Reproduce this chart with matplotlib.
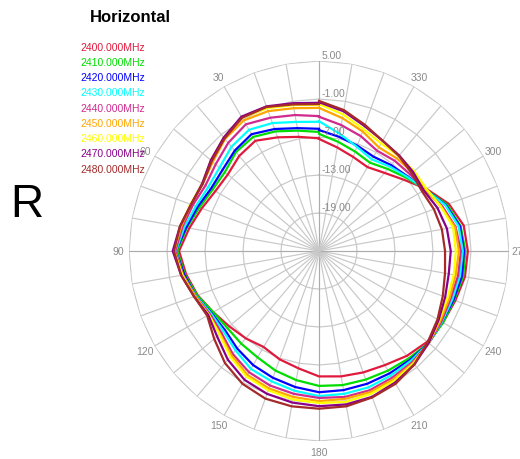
import matplotlib
matplotlib.use("Agg")
import matplotlib.pyplot as plt
import numpy as np

plt.rcParams["font.family"] = ["Liberation Sans", "DejaVu Sans"]

# angles in degrees, gain in dB
angles = list(range(0, 361, 10))
freqs = ["2400.000MHz", "2410.000MHz", "2420.000MHz", "2430.000MHz", "2440.000MHz",
         "2450.000MHz", "2460.000MHz", "2470.000MHz", "2480.000MHz"]
colors = ["#e01a3c", "#00dd00", "#0000ff", "#00ffff", "#d02a8e",
          "#ffa500", "#ffff00", "#880088", "#a52a2a"]

gain_2400 = [-7.2, -6.7, -5.9, -4.9, -5.4, -6.2, -6.1, -5.3, -4.2, -2.9, -3.7, -4.6, -5.7, -6.5, -7.0, -7.5, -6.8, -6.2, -5.2,
             -4.9, -4.6, -4.2, -3.4, -2.7, -2.4, -2.1, -1.6, -1.5, -1.8, -3.2, -5.4, -7.5, -8.9, -9.7, -9.2, -8.4, -7.3]
gain_2410 = [-6.2, -5.7, -4.9, -4.2, -4.6, -5.6, -5.6, -4.9, -3.8, -2.6, -3.5, -4.5, -5.7, -6.1, -5.9, -5.6, -4.9, -4.3, -3.7,
             -3.5, -3.4, -3.2, -2.9, -2.4, -2.4, -2.3, -1.9, -1.9, -2.3, -3.5, -5.6, -7.0, -8.1, -8.9, -8.3, -7.5, -6.5]
gain_2420 = [-5.7, -5.3, -4.5, -3.7, -4.3, -5.1, -5.3, -4.6, -3.7, -2.4, -3.4, -4.3, -5.4, -5.6, -4.9, -4.2, -3.7, -3.2, -2.7,
             -2.7, -2.7, -2.7, -2.6, -2.4, -2.6, -2.4, -2.1, -2.1, -2.4, -3.7, -5.6, -6.7, -7.3, -7.8, -7.3, -6.7, -5.9]
gain_2430 = [-4.6, -4.3, -3.5, -2.9, -3.5, -4.5, -4.8, -4.3, -3.4, -2.4, -3.2, -4.3, -5.3, -5.3, -4.5, -3.5, -3.1, -2.6, -2.1,
             -2.1, -2.1, -2.3, -2.4, -2.4, -2.6, -2.6, -2.4, -2.3, -2.6, -3.8, -5.6, -6.8, -7.6, -8.3, -7.5, -6.2, -4.5]
gain_2440 = [-3.7, -3.2, -2.6, -1.9, -2.7, -3.7, -4.3, -3.8, -3.1, -2.3, -3.2, -4.2, -5.1, -4.9, -3.8, -2.9, -2.4, -2.1, -1.8,
             -1.6, -1.6, -1.9, -2.1, -2.4, -2.7, -2.9, -2.7, -2.6, -3.1, -4.3, -5.7, -6.2, -6.4, -6.7, -5.7, -4.8, -3.8]
gain_2450 = [-2.4, -2.1, -1.5, -1.2, -1.9, -3.1, -3.8, -3.5, -2.9, -2.1, -3.1, -4.2, -4.9, -4.6, -3.5, -2.4, -1.9, -1.6, -1.3,
             -1.3, -1.3, -1.6, -1.9, -2.4, -2.9, -3.1, -3.1, -2.9, -3.2, -4.5, -5.6, -5.7, -5.9, -6.1, -4.9, -3.7, -2.4]
gain_2460 = [-1.9, -1.6, -1.0, -0.7, -1.6, -2.7, -3.7, -3.4, -2.7, -2.1, -3.1, -4.0, -4.9, -4.5, -3.2, -2.1, -1.6, -1.2, -1.0,
             -0.8, -1.0, -1.3, -1.8, -2.4, -3.1, -3.4, -3.4, -3.4, -3.5, -4.5, -5.4, -5.4, -5.4, -5.4, -4.5, -3.1, -1.8]
gain_2470 = [-1.6, -1.3, -0.7, -0.5, -1.6, -2.7, -3.7, -3.5, -2.7, -1.9, -2.9, -4.0, -4.8, -4.0, -2.6, -1.5, -1.0, -0.7, -0.5,
             -0.4, -0.5, -1.0, -1.6, -2.4, -3.2, -3.8, -4.2, -4.2, -4.5, -5.1, -5.9, -5.6, -5.3, -4.9, -4.0, -2.6, -1.5]
gain_2480 = [-1.8, -1.5, -0.8, -0.7, -1.8, -2.9, -3.8, -3.5, -2.7, -2.1, -2.9, -4.0, -4.6, -3.4, -1.9, -0.8, -0.2, -0.1, -0.1,
             -0.1, -0.4, -0.8, -1.6, -2.6, -3.4, -4.2, -4.8, -5.1, -5.3, -5.7, -6.2, -5.9, -5.4, -4.9, -3.8, -2.4, -1.3]

gains = [gain_2400, gain_2410, gain_2420, gain_2430, gain_2440,
         gain_2450, gain_2460, gain_2470, gain_2480]

r_min, r_max = -25, 5
ring_levels = [-19, -13, -7, -1, 5]
angle_labels = [30, 60, 90, 120, 150, 180, 210, 240, 270, 300, 330]

fig = plt.figure(figsize=(5.2, 4.6), dpi=100)
ax = fig.add_axes([0.2481, 0.0391, 0.7308, 0.8261], projection="polar")
ax.set_theta_zero_location("N")
ax.set_theta_direction(1)
ax.set_ylim(r_min, r_max)
ax.set_xticks([])
ax.set_yticks([])
ax.grid(False)
ax.spines["polar"].set_visible(False)

# polygonal grid like the reference
grid_th = np.deg2rad(np.arange(0, 361, 10))
for lev in ring_levels:
    ax.plot(grid_th, np.full(len(grid_th), lev), color="#c8c8c8", lw=0.85, zorder=1)
for a in range(0, 360, 10):
    c = "#acacac" if a % 90 == 0 else "#c8c8c8"
    ax.plot([np.deg2rad(a)] * 2, [r_min, r_max], color=c, lw=0.85, zorder=1)

th = np.deg2rad(angles)
for g, c in zip(gains, colors):
    ax.plot(th, g, color=c, lw=1.6, zorder=3)

for lev in ring_levels:
    ax.annotate(f"{lev:.2f}", xy=(0, lev), xytext=(2, 1), textcoords="offset points",
                ha="left", va="bottom", fontsize=7.5, color="#8a8a8a", zorder=4)

for a in angle_labels:
    ax.text(np.deg2rad(a), r_max + 1.7, str(a), ha="center", va="center",
            fontsize=7.5, color="#8a8a8a", clip_on=False)

fig.text(130 / 520, 1 - 17 / 460, "Horizontal", ha="center", va="center",
         fontsize=12, fontweight="bold")

for i, (f, c) in enumerate(zip(freqs, colors)):
    fig.text(80 / 520, 1 - (47.7 + 15.25 * i) / 460, f, ha="left", va="center",
             fontsize=7.5, color=c)

fig.text(27 / 520, 1 - 205 / 460, "R", ha="center", va="center", fontsize=33)

fig.savefig("out.png", dpi=100)
